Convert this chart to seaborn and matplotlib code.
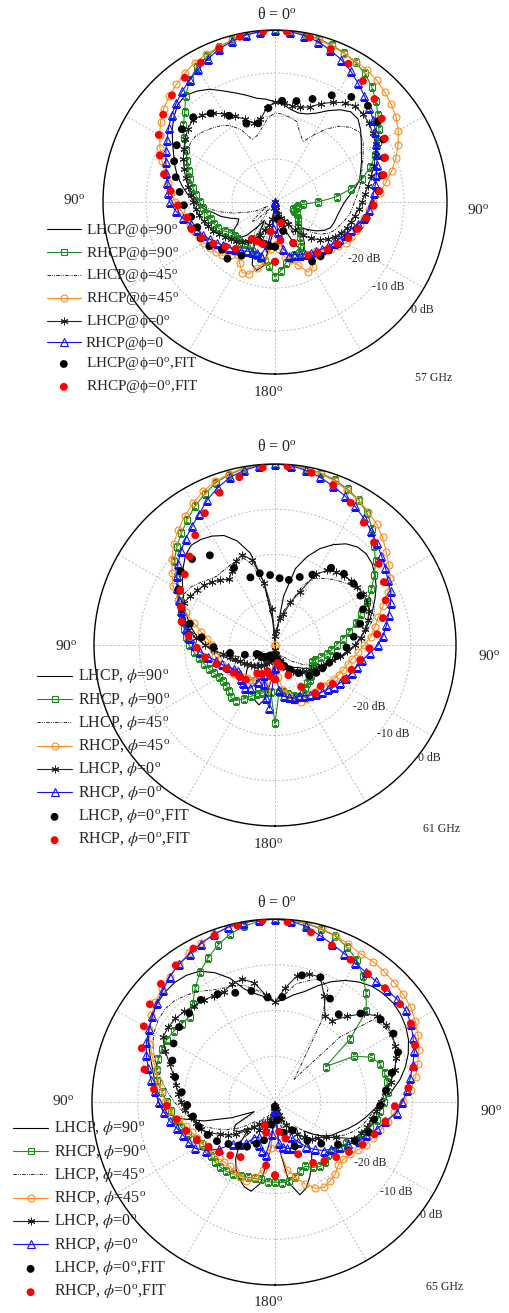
import numpy as np
import matplotlib
matplotlib.use("Agg")
import matplotlib.pyplot as plt
import seaborn as sns

# Griglie angolari (gradi): simulazioni ogni 5 gradi, punti FIT ogni 8 gradi
theta_sim = np.arange(-180, 181, 5)
theta_fit = np.arange(-180, 181, 8)

# ---------------- 57 GHz (dB, theta da -180 a 180) ----------------
lhcp90_57 = [-40, -32, -25, -23.5, -24.5, -28, -35, -33, -30, -28, -27, -28, -30, -30.7, -29, -27, -25.5, -23.2,
             -21.5, -19.6, -18, -16.5, -15.2, -14, -12.5, -10.8, -9.3, -8, -7.6, -8.5, -9.7, -11.5, -13, -14.3, -15.5, -16,
             -16.7,
             -17.3, -18.2, -18.6, -18.2, -17.2, -15.5, -13.8, -12.6, -12.7, -14, -15.5, -16.8, -17.8, -18.8, -19.6, -21, -22.6, -23.8,
             -24.5, -25, -25.3, -25.5, -25.8, -26.8, -28.3, -30, -31.5, -30, -28, -27, -29, -33, -36, -38, -39, -40]
rhcp90_57 = [-22.6, -25, -26, -26.5, -27, -27.5, -28.4, -28, -27.6, -27.7, -27.8, -27.5, -26.5, -25.5, -25, -24.5, -24, -23.3,
             -22.5, -21.5, -20.6, -19.6, -18.6, -17.5, -16, -14.2, -12.2, -10.3, -7.7, -5.4, -3.7, -2.6, -1.7, -1, -0.5, -0.2,
             0,
             -0.1, -0.3, -0.7, -1.2, -1.8, -2.5, -3.5, -5, -6.8, -8.7, -10.5, -12.3, -14.3, -16.4, -19, -22, -25.5, -30,
             -33.5, -34.5, -35, -35.5, -35, -34.2, -33.5, -33, -32.5, -31, -30, -28, -27, -27, -26.5, -25.6, -24, -22.6]
lhcp45_57 = [-40, -36, -28, -33, -29, -35, -30, -32, -38, -34, -33, -36, -38, -35, -33, -30, -27, -24,
             -22, -20.8, -19.8, -19, -18.2, -17.3, -16.5, -16, -16, -16.7, -17.5, -18.3, -19.5, -21.5, -24.5, -24, -22.5, -20.4,
             -19.3,
             -19.5, -20, -20.6, -23, -24.5, -22, -19.3, -17, -15.4, -14.5, -15, -16.3, -17.5, -18.5, -19.2, -20, -20.8, -21.5,
             -22, -22.5, -23.3, -24, -24.6, -25.5, -27, -29, -33, -30, -35, -31, -36, -32, -37, -34, -38, -40]
rhcp45_57 = [-30, -29, -26, -24, -22.2, -21.9, -23.6, -25, -24, -22.5, -22, -21.5, -21, -20.5, -20, -19.5, -19, -18,
             -16.8, -15.8, -14.8, -13.5, -12, -10.5, -9, -7.5, -6.2, -5.2, -4.3, -3.4, -2.6, -2.1, -1.6, -1.1, -0.6, -0.2,
             0,
             -0.1, -0.4, -0.9, -1.4, -1.9, -2.3, -2.6, -3.1, -3.9, -4.7, -5.6, -6.9, -8.4, -10.1, -11.9, -13.8, -15.6, -17.1,
             -18, -18.9, -19.5, -20, -20.5, -21, -22, -23, -24, -25, -24.5, -22.5, -22, -24.5, -26, -27, -29, -30]
lhcp0_57 = [-40, -38.5, -36, -34.5, -33, -31.5, -30, -29, -28, -27.2, -26.5, -25.7, -25, -24.2, -23.5, -22.8, -22, -21.5,
            -21, -20.3, -19.5, -18.5, -17.5, -16.5, -15.5, -14.5, -13.5, -13, -13.6, -14.8, -16.3, -18, -19.5, -21, -20.5, -18,
            -16.7,
            -16.8, -17.3, -17.2, -16.5, -14.8, -13.2, -11.8, -11, -11, -11.5, -12.2, -13, -14.2, -15.5, -16.8, -18, -19, -19.8,
            -20.5, -21.2, -21.8, -22.3, -23, -23.9, -25, -26.3, -28, -30, -32, -34, -35, -36, -37, -38, -39, -40]
rhcp0_57 = [-40, -34, -30, -27, -27.5, -27.2, -26.8, -26.2, -25.6, -25, -24.3, -23.5, -22.6, -21.6, -20.8, -19.8, -18.2, -16.8,
            -15.5, -15, -14.5, -13.8, -13, -12, -11, -9.8, -8.6, -7.5, -6.4, -5.4, -4.3, -3.2, -2.1, -1.3, -0.6, -0.2,
            0,
            -0.2, -0.7, -1.4, -2.4, -3.5, -4.8, -6.3, -7.7, -9, -10.2, -11.5, -12.8, -13.8, -14.8, -15.6, -16.3, -17, -17.5,
            -18, -19, -20, -21.3, -22, -22.8, -23.3, -24, -24.5, -25, -25.5, -26, -26.5, -27, -27, -29, -33, -40]
lfit_57 = [-29.6, -29.8, -30, -30.3, -25.3, -22.8, -23.4, -21.6, -20.8, -21, -20.2, -18.8, -17.7, -16.2, -14.7, -13.6,
           -12.5, -12.6, -14.5, -17.3, -20.6, -21.3, -18.1, -16.4, -16, -14.5, -11.9, -9.8, -8.9, -9.6, -10.9, -12.6,
           -14.4, -15.8, -17.1, -18.4, -20, -21.2, -22.3, -23.2, -23.5, -23.7, -29.5, -33, -36, -29.6]
rfit_57 = [-26.1, -33, -29.8, -30, -29.9, -25.8, -24.5, -22.7, -21, -19.6, -19.3, -17.4, -15.6, -13.4, -11.1, -8.8,
           -7, -5.5, -4.3, -3.3, -2, -0.7, -0.3, -0.3, -0.9, -2.2, -3.6, -5.2, -6.7, -8.5, -10.5, -12.4,
           -14, -15.6, -17.1, -18.4, -19.8, -21, -22.5, -23.5, -24.5, -25.4, -29.6, -34.9, -31, -26.1]

# ---------------- 61 GHz ----------------
lhcp90_61 = [-40, -33, -28, -26.3, -27, -30, -32, -30.5, -30, -31, -32, -32.5, -32, -31, -30, -29, -27.5, -26,
             -24.5, -23, -21.6, -20.3, -19, -17.8, -16.5, -15, -13.5, -12, -11.2, -11.5, -12.2, -13.3, -15.5, -19, -26, -34.5,
             -40,
             -38, -29, -22.5, -19.2, -16.5, -14.4, -12.7, -11.7, -11.5, -12, -13, -14.2, -15.6, -17, -18.3, -19.6, -21, -22.3,
             -23.6, -25, -26.5, -27.8, -29, -30, -31, -32, -33, -33.5, -34, -35, -36, -37, -37.5, -38, -39, -40]
rhcp90_61 = [-22.7, -29.5, -29.5, -29, -28.5, -27.5, -26.3, -25, -24.9, -25.5, -26, -26, -25.8, -25.2, -24.5, -23.8, -23, -22,
             -21, -20.3, -19.6, -18.8, -17.8, -16.8, -15.5, -13.5, -11, -9.3, -7.8, -6.2, -4.6, -3.2, -1.8, -1, -0.4, -0.1,
             0,
             -0.1, -0.3, -0.7, -1.2, -2, -3, -4.5, -6.5, -9, -11, -13.2, -15.4, -17.6, -19.8, -21.5, -23.3, -25, -26.4,
             -27.5, -28.3, -29.5, -30.5, -31, -30.5, -30, -29.5, -29.2, -29, -28.5, -27.8, -27.3, -28, -28.8, -29.5, -29.6, -22.7]
lhcp45_61 = [-40, -39, -36, -39, -35, -38, -34, -38, -36, -33, -37, -34, -36, -34, -32.5, -30.5, -28.5, -26.5,
             -24.5, -22.8, -21, -19.5, -18.2, -17.3, -17, -17.5, -18.5, -19.5, -20.1, -20, -19.8, -19.5, -19.5, -22, -28, -35,
             -40,
             -38, -35, -32, -30, -25.5, -23, -22, -21, -20, -19, -18, -17, -16.4, -16.6, -17.5, -19, -20.5, -22,
             -23.5, -25, -26.5, -28, -29.5, -31, -32.5, -34, -35, -36, -37, -36, -38, -37, -39, -38, -39, -40]
rhcp45_61 = [-40, -33, -30, -31, -32.5, -32, -31, -30.5, -30.5, -30, -29.5, -29, -28.5, -28, -27.5, -27, -26.5, -26.3,
             -26, -25, -23.5, -21.5, -19, -16.3, -14, -12.2, -10.3, -8.3, -6.8, -5.2, -3.8, -2.5, -1.5, -0.8, -0.3, -0.1,
             0,
             -0.1, -0.3, -0.8, -1.5, -2.3, -3.1, -4, -5.1, -6.4, -7.9, -9.3, -10.6, -12.5, -14.6, -16.4, -17.6, -18.8, -20.3,
             -21.6, -22.7, -23.4, -24, -24.5, -25, -25.5, -26, -26.4, -26.5, -26.4, -26.2, -26.2, -27, -28.5, -30, -33, -40]
lhcp0_61 = [-39, -38, -37, -36.5, -36, -35.5, -35, -34.5, -34, -33.5, -33, -32.5, -32, -31.5, -30.7, -29.7, -28.3, -26.5,
            -24.5, -22.5, -20.5, -18.8, -17.8, -17.8, -18.4, -19, -19.5, -20.3, -21.2, -22.3, -21, -19.5, -18.8, -20.5, -26, -32,
            -38,
            -37, -34, -33, -30, -27, -22, -19.8, -19, -18.3, -18, -17.8, -17.5, -17.5, -17.9, -18.8, -19.7, -21, -22.3,
            -24, -25.5, -27, -28, -28.8, -29.5, -30.2, -31, -31.7, -32.4, -33, -33.8, -34.5, -35.3, -36, -37, -38, -39]
rhcp0_61 = [-35, -26, -28, -31, -33, -31, -29, -28.5, -29, -29.5, -30, -30, -29.5, -28.5, -27.5, -26.5, -25, -23.3,
            -22, -21, -20, -19, -17.8, -16.5, -15, -13.5, -12, -10.6, -9.3, -8, -6.5, -4.6, -3, -1.6, -0.8, -0.2,
            0,
            -0.2, -0.8, -1.6, -2.6, -3.6, -4.6, -5.8, -7, -8.2, -9.3, -10.2, -11.2, -11.8, -12.8, -14, -15, -16, -17.2,
            -19, -20.5, -21.3, -22, -22.7, -23.3, -24, -24.8, -25.3, -25.8, -26.5, -27, -27.5, -27.5, -28, -28.5, -30, -35]
lfit_61 = [-37, -37.5, -37, -37.5, -37, -36.5, -36, -36, -35.5, -33, -29.9, -26.4, -23.7, -20.6, -17.7, -15.4,
           -13.6, -13.6, -15.5, -20.7, -24.1, -23.8, -24.5, -25.2, -25.3, -24, -22.4, -18.9, -18.1, -18, -18.2, -19,
           -20.6, -22.5, -24.2, -26.1, -27.4, -28.3, -29, -29.8, -31.9, -33.6, -34.9, -36, -36.7, -37]
rfit_61 = [-32.4, -33, -34, -33, -32.6, -30, -29.5, -29, -28, -26.4, -24.3, -22.7, -20.8, -18.7, -17.6, -15.8,
           -14.7, -12.8, -10, -7, -4.2, -2.1, -0.7, -0.4, -1.1, -2.4, -4.4, -6.6, -8.5, -10.9, -12.2, -13.6,
           -15.4, -17.3, -19.1, -20.9, -22.2, -22.8, -24.6, -26.4, -26.1, -29.1, -32.7, -35, -36, -32.4]

# ---------------- 65 GHz ----------------
lhcp90_65 = [-40, -30, -22, -19.8, -20.3, -21.5, -23, -25, -28, -32, -30, -29, -30, -35, -30, -24, -19, -15.5,
             -14.5, -14, -13.3, -12.3, -11, -9.5, -8.2, -7.2, -6.4, -6, -5.9, -6.2, -7, -8.8, -11.2, -14.5, -16, -17,
             -18.2,
             -17.5, -16.2, -15, -13, -11, -9.3, -8, -7, -6.5, -6.3, -6.5, -7, -7.8, -9, -10.5, -12.3, -14.5, -16.5,
             -18.5, -20, -21.5, -23, -24.5, -25.5, -27, -29, -31, -29, -26, -24, -22, -20, -19, -22, -30, -40]
rhcp90_65 = [-22.5, -22.5, -22.8, -22.7, -22.5, -22.2, -21.8, -21.5, -21.4, -21.5, -21.8, -22, -21.7, -21, -19.8, -18.8, -17.9, -17.2,
             -16.4, -15.2, -13.9, -13.2, -12.8, -12.7, -12.7, -13, -13.4, -13.6, -12, -9.6, -7.2, -5.3, -3.5, -2, -1, -0.3,
             0,
             -0.2, -0.4, -0.9, -1.4, -2.7, -4.2, -6.5, -9, -11.8, -18.5, -26.5, -20, -16.8, -15.6, -15.2, -15.1, -15.1, -16.1,
             -17, -17.4, -18.5, -19.5, -20.5, -22, -22.5, -23.5, -23.5, -23, -22.8, -23.5, -24.5, -24, -23, -22.5, -22.3, -22.5]
lhcp45_65 = [-40, -39, -35, -38, -33, -37, -32, -36, -30, -34, -32, -30, -28, -26, -24, -22.5, -21, -19.5,
             -18, -16.5, -15, -13.5, -12, -10.5, -9.5, -8.8, -8.5, -8.8, -9.6, -10.5, -11.8, -12.6, -13, -13.6, -15, -16.5,
             -18,
             -16.5, -13.8, -12.6, -11.3, -12.5, -20, -30, -33.5, -20, -12, -11, -10.8, -11, -11.8, -13, -14.5, -16, -17.2,
             -18.3, -19.3, -20.2, -21.5, -23, -25, -27, -29, -31, -33, -30, -35, -32, -36, -33, -37, -39, -40]
rhcp45_65 = [-38, -30, -25, -23, -21.6, -22, -22.5, -22.8, -22.8, -22.6, -22.3, -22, -21.8, -21.3, -20.6, -19.8, -18.6, -16.8,
             -16, -15.2, -14.2, -13, -11.5, -9.8, -8.3, -7, -5.9, -5, -4.2, -3.3, -2.4, -1.6, -1, -0.5, -0.2, -0.1,
             0,
             -0.1, -0.3, -0.7, -1.3, -2, -2.6, -2.6, -2.8, -3.1, -3.4, -3.8, -4.6, -5.5, -6.5, -7.7, -8.8, -10.2, -12,
             -13.8, -15, -16.2, -17.3, -18, -19, -20, -20.5, -20.5, -19.5, -19, -18.5, -19.2, -21, -23, -25, -30, -38]
lhcp0_65 = [-39, -38, -37, -36, -34, -35, -33, -34, -33, -31.3, -29, -27.4, -26, -24, -22.8, -22.2, -21.3, -20.3,
            -19.4, -18.8, -18, -17, -15.5, -13.5, -11.7, -11.5, -11.6, -12, -12.5, -12.8, -13.2, -13.4, -12.5, -12.2, -13.5, -16.5,
            -18.2,
            -15, -12, -11, -11, -14.5, -18.2, -18.3, -15.6, -12.6, -10.8, -10.5, -10.4, -11, -11.9, -12.8, -14.3, -15.8, -16.8,
            -17.8, -18.5, -19.1, -20, -21, -24.5, -26.5, -27.8, -28.5, -30, -31.5, -33, -34.5, -36, -37, -38, -38.5, -39]
rhcp0_65 = [-38, -33, -28.3, -29, -30, -31.6, -31, -29, -28, -27, -24, -21.5, -19.8, -19.2, -18.7, -17.8, -16.6, -15.6,
            -14.6, -13.6, -12.5, -11.3, -10.1, -9, -8.2, -7.3, -6.3, -5.4, -4.2, -3.3, -2.7, -1.8, -1, -0.4, -0.2, -0.1,
            0,
            -0.3, -1, -2.3, -3.3, -4.2, -4.9, -5.4, -5.6, -5.4, -5.1, -5.1, -5.7, -6.7, -7.6, -8.8, -10, -11, -12.2,
            -13.3, -15.5, -17, -18.8, -19.8, -21.5, -23, -24, -25, -26.5, -28, -30, -31.5, -29.3, -29.5, -30, -31, -38]
lfit_65 = [-39, -35, -31.3, -30, -28.5, -27.6, -26.3, -24.7, -23.6, -22.5, -21.8, -20.8, -19.5, -17.5, -15.8, -14.4,
           -13.4, -13, -12.4, -13.3, -14.6, -15.2, -17.1, -17, -11.7, -11, -14.4, -16.3, -13.1, -10.7, -10.1, -11,
           -13.7, -15.6, -17, -18, -18.5, -20.6, -23.4, -26.4, -29, -32.7, -29.4, -33, -36, -39]
rfit_65 = [-24, -26, -33, -34.5, -25.8, -24.8, -23.6, -22.5, -21, -19.6, -18.2, -16.3, -13.4, -10.6, -8.6, -6.9,
           -5.3, -4.1, -3.1, -2, -1.4, -0.6, -0.3, -0.6, -2.1, -3.6, -4.8, -5.4, -5.4, -5.3, -5.7, -7,
           -8.8, -10.7, -13.8, -15.5, -17.1, -18.7, -20.5, -22, -23.2, -24.3, -27.5, -31.7, -33.4, -24]

# Colori e stili delle serie (ordine: LHCP90, RHCP90, LHCP45, RHCP45, LHCP0, RHCP0)
VERDE = '#1e8c1e'
ARANCIO = '#ff8c1a'
BLU = '#1010ff'
ROSSO = '#ff0000'
stili = [
    dict(color='black', linewidth=0.8),
    dict(color=VERDE, linewidth=0.8, marker='s', markersize=4.6, markerfacecolor='none',
         markeredgecolor=VERDE, markeredgewidth=0.8),
    dict(color='black', linewidth=0.6, linestyle=(0, (4, 1.5, 1, 1.5, 1, 1.5))),
    dict(color=ARANCIO, linewidth=0.8, marker='o', markersize=5, markerfacecolor='none',
         markeredgecolor=ARANCIO, markeredgewidth=0.8),
    dict(color='#222222', linewidth=0.8, marker=(6, 2, 0), markersize=5.5,
         markeredgecolor='#222222', markeredgewidth=0.7),
    dict(color=BLU, linewidth=0.8, marker='^', markersize=5.5, markerfacecolor='none',
         markeredgecolor=BLU, markeredgewidth=0.8),
]

W, H = 510, 1313
sns.set_style("white")
plt.rcParams['font.family'] = ['Liberation Serif', 'DejaVu Serif']
plt.rcParams['mathtext.fontset'] = 'stix'

fig = plt.figure(figsize=(W / 100, H / 100), dpi=100)


def fx(x):
    return x / W


def fy(y):
    return 1 - y / H


def disegnaPannello(cx, cy, raggio, serie, fit_l, fit_r, etichette, legenda, testi):
    '''
    disegna un diagramma polare (dB da -40 a 0) con le 6 serie simulate e i 2 FIT
    '''
    ax = fig.add_axes([fx(cx - raggio), fy(cy + raggio), 2 * raggio / W, 2 * raggio / H],
                      projection='polar')
    ax.set_theta_zero_location('N')
    ax.set_theta_direction(-1)
    ax.set_axisbelow(True)

    th = np.deg2rad(theta_sim)
    for valori, stile, lab in zip(serie, stili, etichette[:6]):
        sns.lineplot(x=th, y=valori, ax=ax, estimator=None, errorbar=None, sort=False,
                     legend=False, label=lab, **stile)
    thf = np.deg2rad(theta_fit)
    sns.scatterplot(x=thf, y=fit_l, ax=ax, color='black', s=32, linewidth=0, edgecolor='none',
                    legend=False, label=etichette[6], zorder=4)
    sns.scatterplot(x=thf, y=fit_r, ax=ax, color=ROSSO, s=32, linewidth=0, edgecolor='none',
                    legend=False, label=etichette[7], zorder=4)

    # Assi e griglia
    ax.set_xlim(-np.pi, np.pi)
    ax.set_ylim(-40, 0)
    ax.set_yticks([-30, -20, -10])
    ax.set_yticklabels([])
    ax.set_xticks(np.deg2rad(np.arange(-150, 181, 30)))
    ax.set_xticks(np.deg2rad(np.arange(-165, 180, 30)), minor=True)
    ax.set_xticklabels([])
    ax.set_xlabel('')
    ax.set_ylabel('')
    ax.tick_params(axis='x', which='both', direction='in', length=6, width=0.9, colors='black', pad=0)
    ax.tick_params(axis='y', length=0)
    ax.grid(True, color='#bdbdbd', linestyle=(0, (2, 2)), linewidth=0.7)
    ax.spines['polar'].set_linewidth(1.0)
    ax.spines['polar'].set_color('black')

    # Legenda senza cornice a sinistra
    handles, labels = ax.get_legend_handles_labels()
    lx, ly, fs, spazio = legenda
    fig.legend(handles, labels, loc='upper left', bbox_to_anchor=(fx(lx), fy(ly)),
               frameon=False, borderpad=0, borderaxespad=0, handlelength=2.2,
               handletextpad=0.35, labelspacing=spazio, fontsize=fs, numpoints=1,
               scatterpoints=1)

    # Testi: angoli, livelli in dB, frequenza
    for (x, y, s, size) in testi:
        fig.text(fx(x), fy(y), s, ha='center', va='center', fontsize=size)
    return ax


deg = '$^\\mathregular{o}$'
etichette_57 = ['LHCP@ϕ=90' + deg, 'RHCP@ϕ=90' + deg, 'LHCP@ϕ=45' + deg, 'RHCP@ϕ=45' + deg,
                'LHCP@ϕ=0' + deg, 'RHCP@ϕ=0', 'LHCP@ϕ=0' + deg + ',FIT', 'RHCP@ϕ=0' + deg + ',FIT']
phi = '$\\phi$'
etichette_6x = ['LHCP, ' + phi + '=90' + deg, 'RHCP, ' + phi + '=90' + deg,
                'LHCP, ' + phi + '=45' + deg, 'RHCP, ' + phi + '=45' + deg,
                'LHCP, ' + phi + '=0' + deg, 'RHCP, ' + phi + '=0' + deg,
                'LHCP, ' + phi + '=0' + deg + ',FIT', 'RHCP, ' + phi + '=0' + deg + ',FIT']


def testiPannello(titolo_y, sx, dx, basso, ghz, db0, db10, db20, freq):
    return [(277, titolo_y, 'θ = 0' + deg, 11.5),
            (sx[0], sx[1], '90' + deg, 11),
            (dx[0], dx[1], '90' + deg, 11),
            (basso[0], basso[1], '180' + deg, 11),
            (ghz[0], ghz[1], freq, 8.5),
            (db0[0], db0[1], '0 dB', 8.5),
            (db10[0], db10[1], '-10 dB', 8.5),
            (db20[0], db20[1], '-20 dB', 8.5)]


disegnaPannello(275, 202, 172,
                [lhcp90_57, rhcp90_57, lhcp45_57, rhcp45_57, lhcp0_57, rhcp0_57], lfit_57, rfit_57,
                etichette_57, (47, 222, 11, 0.34),
                testiPannello(15, (74, 201), (478, 211), (268, 393), (434, 378),
                              (422, 310), (388, 287), (364, 259), '57 GHz'))
disegnaPannello(275, 645, 181,
                [lhcp90_61, rhcp90_61, lhcp45_61, rhcp45_61, lhcp0_61, rhcp0_61], lfit_61, rfit_61,
                etichette_6x, (37, 668, 11.5, 0.32),
                testiPannello(447, (66, 647), (489, 657), (268, 845), (442, 829),
                              (429, 758), (393, 734), (369, 707), '61 GHz'))
disegnaPannello(275, 1102, 183,
                [lhcp90_65, rhcp90_65, lhcp45_65, rhcp45_65, lhcp0_65, rhcp0_65], lfit_65, rfit_65,
                etichette_6x, (13, 1120, 11.5, 0.32),
                testiPannello(903, (63, 1102), (491, 1112), (268, 1303), (445, 1287),
                              (431, 1215), (396, 1192), (370, 1163), '65 GHz'))

fig.savefig('out.png', dpi=100)
